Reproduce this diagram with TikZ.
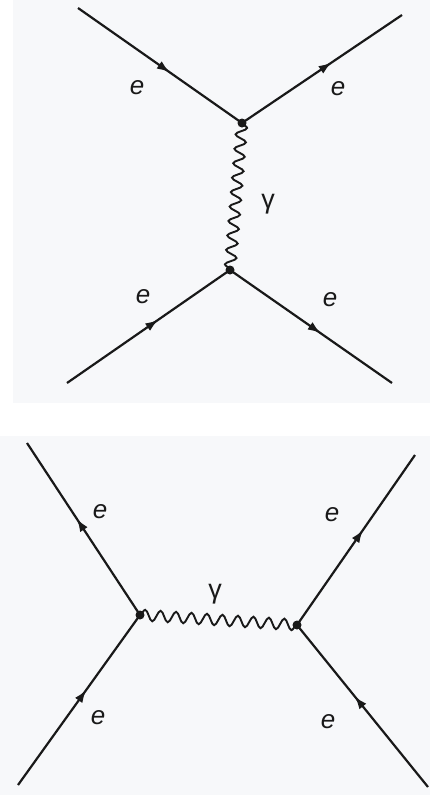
\documentclass[tikz,border=0pt]{standalone}
\usepackage{fontspec}
\setmainfont{Liberation Sans}
\usetikzlibrary{arrows.meta,decorations.markings,decorations.pathmorphing}
\definecolor{paper}{RGB}{247,248,250}
\definecolor{ink}{RGB}{25,25,25}
\tikzset{
  fermion/.style={draw=ink,line width=2.2pt,postaction={decorate},
    decoration={markings,mark=at position 0.56 with {\arrow{Latex[length=13pt,width=9pt]}}}},
  photon/.style={draw=ink,line width=1.9pt,decorate,
    decoration={snake,amplitude=5.5pt,segment length=#1}},
  vertexdot/.style={circle,fill=ink,inner sep=0pt,minimum size=9pt},
  lab/.style={font=\fontsize{26}{26}\selectfont\itshape,text=ink,inner sep=0pt},
  glab/.style={font=\fontsize{27}{27}\selectfont,text=ink,inner sep=0pt}
}
\begin{document}
\begin{tikzpicture}[x=1pt,y=-1pt]
\useasboundingbox (0,0) rectangle (430,795);
\fill[paper] (13,0) rectangle (430,403);
\fill[paper] (0,436) rectangle (430,795);
% top diagram
\coordinate (a1) at (78,8);
\coordinate (a2) at (402,15);
\coordinate (a3) at (67,383);
\coordinate (a4) at (392,383);
\node[vertexdot] (v1) at (242,123) {};
\node[vertexdot] (v2) at (230,270) {};
\draw[photon=14.5pt] (v1.center) -- (v2.center);
\draw[fermion] (a1) -- (v1.center);
\draw[fermion] (v1.center) -- (a2);
\draw[fermion] (a3) -- (v2.center);
\draw[fermion] (v2.center) -- (a4);
\node[lab] (e1) at (137,88) {e};
\node[lab] (e2) at (338,89) {e};
\node[lab] (e3) at (143,297) {e};
\node[lab] (e4) at (330,300) {e};
\node[glab] (g1) at (268,204) {γ};
% bottom diagram
\coordinate (b1) at (27,443);
\coordinate (b2) at (18,785);
\coordinate (b3) at (415,455);
\coordinate (b4) at (428,787);
\node[vertexdot] (v3) at (140,615) {};
\node[vertexdot] (v4) at (297,625) {};
\draw[photon=15.5pt] (v3.center) -- (v4.center);
\draw[fermion] (v3.center) -- (b1);
\draw[fermion] (b2) -- (v3.center);
\draw[fermion] (v4.center) -- (b3);
\draw[fermion] (b4) -- (v4.center);
\node[lab] (e5) at (100,512) {e};
\node[lab] (e6) at (332,515) {e};
\node[lab] (e7) at (98,718) {e};
\node[lab] (e8) at (328,722) {e};
\node[glab] (g2) at (215,594) {γ};
\end{tikzpicture}
\end{document}
